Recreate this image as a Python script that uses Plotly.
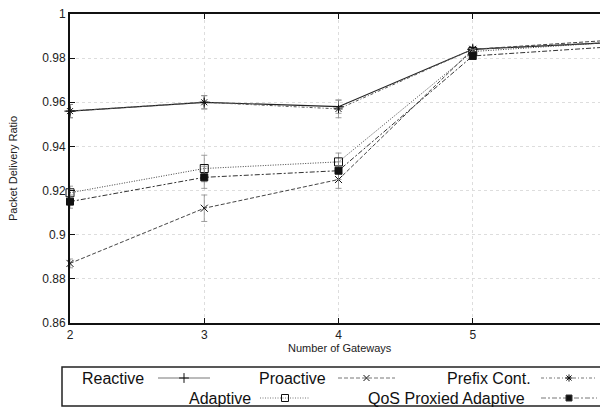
import plotly.graph_objects as go

# ---- data ----
gateways = [2, 3, 4, 5, 6]
reactive = [0.956, 0.960, 0.958, 0.984, 0.987]
reactive_err = [0.003, 0.003, 0.003, 0.001, 0.001]
proactive = [0.887, 0.912, 0.925, 0.984, 0.988]
proactive_err = [0.002, 0.006, 0.004, 0.001, 0.001]
prefix_cont = [0.956, 0.960, 0.957, 0.984, 0.987]
prefix_err = [0.003, 0.003, 0.004, 0.001, 0.001]
adaptive = [0.919, 0.930, 0.933, 0.983, 0.987]
adaptive_err = [0.003, 0.006, 0.004, 0.001, 0.001]
qos_adaptive = [0.915, 0.926, 0.929, 0.981, 0.985]
qos_err = [0.003, 0.005, 0.004, 0.001, 0.001]

y_ticks = [0.86, 0.88, 0.9, 0.92, 0.94, 0.96, 0.98, 1.0]
y_tick_text = ["0.86", "0.88", "0.9", "0.92", "0.94", "0.96", "0.98", "1"]
x_ticks = [2, 3, 4, 5, 6]

# page body has an 8px margin: figure is offset by OFF px on screen
OFF = 8
W, H = 608 - OFF, 407 - OFF
FONT = "Liberation Sans, Arial, sans-serif"


def px(v):
    return v - OFF


series = [
    ("Reactive", reactive, reactive_err, "solid", "cross-thin-open", 8, 1.2, "#222222"),
    ("Proactive", proactive, proactive_err, "4px,2px", "x-thin-open", 7, 1.0, "#444444"),
    ("Prefix Cont.", prefix_cont, prefix_err, "3px,2px,1px,2px", "asterisk-open", 7, 1.0, "#555555"),
    ("Adaptive", adaptive, adaptive_err, "1px,1.5px", "square-open", 8, 1.0, "#444444"),
    ("QoS Proxied Adaptive", qos_adaptive, qos_err, "5px,2px,2px,2px", "square", 7, 1.0, "#333333"),
]

fig = go.Figure()
for name, vals, err, dash, sym, size, lw, col in series:
    fig.add_trace(go.Scatter(
        x=gateways, y=vals, name=name, mode="lines+markers",
        line=dict(color=col, width=lw, dash=dash),
        marker=dict(symbol=sym, size=size, color="#111111",
                    line=dict(color="#111111", width=1)),
        error_y=dict(type="data", array=err, visible=True,
                     color="#888888", thickness=0.8, width=3),
        showlegend=False, cliponaxis=False,
    ))

# ---- custom legend (gnuplot style: text then sample) ----
legend_items = [
    ("Reactive", 146, 158, 210, 378),
    ("Proactive", 328, 338, 395, 378),
    ("Prefix Cont.", 533, 541, 597, 378),
    ("Adaptive", 253, 260, 310, 398),
    ("QoS Proxied Adaptive", 527, 541, 597, 398),
]
style = {s[0]: s for s in series}
for name, tx, x0, x1, yy in legend_items:
    _, _, _, dash, sym, size, lw, col = style[name]
    fig.add_trace(go.Scatter(
        x=[px(x0), px(x1)], y=[px(yy), px(yy)], mode="lines", xaxis="x2", yaxis="y2",
        line=dict(color="#777777", width=1, dash=dash), showlegend=False,
        hoverinfo="skip"))
    fig.add_trace(go.Scatter(
        x=[px((x0 + x1) / 2)], y=[px(yy)], mode="markers", xaxis="x2", yaxis="y2",
        marker=dict(symbol=sym, size=size - 1, color="#111111",
                    line=dict(color="#333333", width=1)),
        showlegend=False, hoverinfo="skip"))
    fig.add_annotation(x=px(tx), y=px(yy), xref="x2", yref="y2", text=name,
                       showarrow=False, xanchor="right", yanchor="middle",
                       font=dict(family=FONT, size=16, color="#111111"))

fig.add_shape(type="rect", xref="x2", yref="y2", x0=px(62), x1=px(605),
              y0=px(367), y1=px(406),
              line=dict(color="#222222", width=1.5), fillcolor="rgba(0,0,0,0)")

plot_l, plot_r, plot_t, plot_b = px(70), px(607), px(14), px(323)

fig.update_layout(
    width=W, height=H,
    margin=dict(l=0, r=0, t=0, b=0),
    paper_bgcolor="white", plot_bgcolor="rgba(0,0,0,0)",
    font=dict(family=FONT, size=12, color="#222222"),
    xaxis=dict(
        domain=[plot_l / W, plot_r / W], range=[2, 6],
        tickvals=x_ticks, ticktext=[str(v) for v in x_ticks],
        showgrid=True, gridcolor="#dddddd", griddash="dot", gridwidth=1,
        showline=True, linecolor="#111111", linewidth=2, mirror="ticks",
        ticks="inside", ticklen=5, tickcolor="#111111",
        tickfont=dict(size=12, family=FONT), zeroline=False,
        automargin=False, ticklabeloverflow="allow",
    ),
    yaxis=dict(
        domain=[(H - plot_b) / H, (H - plot_t) / H], range=[0.86, 1.0],
        tickvals=y_ticks, ticktext=y_tick_text,
        showgrid=True, gridcolor="#dddddd", griddash="dot", gridwidth=1,
        showline=True, linecolor="#111111", linewidth=2, mirror="ticks",
        ticks="inside", ticklen=5, tickcolor="#111111",
        tickfont=dict(size=12, family=FONT), zeroline=False,
        automargin=False, ticklabeloverflow="allow",
    ),
    xaxis2=dict(domain=[0, 1], range=[0, W], visible=False, fixedrange=True,
                anchor="y2"),
    yaxis2=dict(domain=[0, 1], range=[H, 0], visible=False, fixedrange=True,
                anchor="x2"),
)
fig.add_annotation(text="Packet Delivery Ratio", xref="paper", yref="paper",
                   x=px(13) / W, y=1 - px(169) / H, textangle=-90, showarrow=False,
                   xanchor="center", yanchor="middle",
                   font=dict(family=FONT, size=11, color="#222222"))
fig.add_annotation(text="Number of Gateways", xref="paper", yref="paper",
                   x=px(340) / W, y=1 - px(348) / H, showarrow=False,
                   xanchor="center", yanchor="middle",
                   font=dict(family=FONT, size=11, color="#222222"))

fig.write_html("out.html")
